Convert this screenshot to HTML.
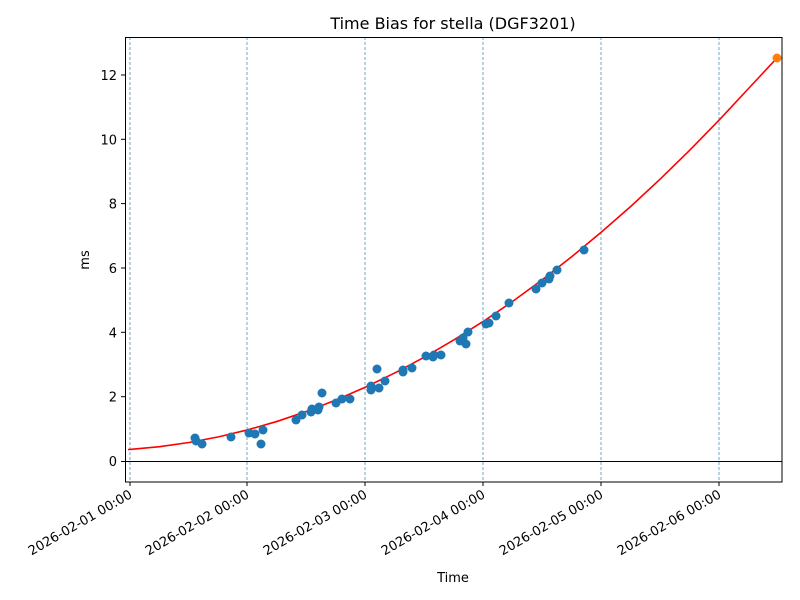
<!DOCTYPE html>
<html><head><meta charset="utf-8"><style>body{margin:0;background:#fff}svg{display:block;font-family:"DejaVu Sans","Liberation Sans",sans-serif}</style></head><body>
<svg width="800" height="600" xmlns="http://www.w3.org/2000/svg">
<rect width="800" height="600" fill="#fff"/>
<g stroke="#1f77b4" stroke-width="0.8" stroke-dasharray="3,2" opacity="0.8">
<line x1="130" y1="37" x2="130" y2="482"/><line x1="247" y1="37" x2="247" y2="482"/><line x1="365" y1="37" x2="365" y2="482"/><line x1="483" y1="37" x2="483" y2="482"/><line x1="601" y1="37" x2="601" y2="482"/><line x1="719" y1="37" x2="719" y2="482"/>
</g>
<line x1="125.5" y1="461.5" x2="782" y2="461.5" stroke="#000" stroke-width="1"/>
<polyline fill="none" stroke="red" stroke-width="1.6" points="128,449.5 130,449.4 159.5,446.7 189,442.5 218.4,436.9 247.9,429.8 277.4,421.3 306.9,411.3 336.3,399.9 365.8,387 395.3,372.7 424.8,356.9 454.2,339.7 483.7,321.1 513.2,301 542.7,279.4 572.1,256.4 601.6,231.9 631.1,206.1 660.6,178.7 690,149.9 719.5,119.7 749,88 777,58"/>
<g fill="#1f77b4">
<circle cx="195" cy="438" r="4.5"/><circle cx="196" cy="441" r="4.5"/><circle cx="202" cy="444" r="4.5"/><circle cx="231" cy="437" r="4.5"/><circle cx="249" cy="433" r="4.5"/><circle cx="255" cy="434" r="4.5"/><circle cx="261" cy="444" r="4.5"/><circle cx="263" cy="430" r="4.5"/><circle cx="296" cy="420" r="4.5"/><circle cx="302" cy="415" r="4.5"/><circle cx="311" cy="412" r="4.5"/><circle cx="312" cy="409" r="4.5"/><circle cx="318" cy="410" r="4.5"/><circle cx="319" cy="407" r="4.5"/><circle cx="322" cy="393" r="4.5"/><circle cx="336" cy="403" r="4.5"/><circle cx="342" cy="399" r="4.5"/><circle cx="350" cy="399" r="4.5"/><circle cx="371" cy="386" r="4.5"/><circle cx="371" cy="390" r="4.5"/><circle cx="377" cy="369" r="4.5"/><circle cx="379" cy="388" r="4.5"/><circle cx="385" cy="381" r="4.5"/><circle cx="403" cy="372" r="4.5"/><circle cx="403" cy="370" r="4.5"/><circle cx="412" cy="368" r="4.5"/><circle cx="426" cy="356" r="4.5"/><circle cx="433" cy="357" r="4.5"/><circle cx="434" cy="355" r="4.5"/><circle cx="441" cy="355" r="4.5"/><circle cx="460" cy="341" r="4.5"/><circle cx="463" cy="338" r="4.5"/><circle cx="466" cy="344" r="4.5"/><circle cx="468" cy="332" r="4.5"/><circle cx="486" cy="324" r="4.5"/><circle cx="489" cy="323" r="4.5"/><circle cx="496" cy="316" r="4.5"/><circle cx="509" cy="303" r="4.5"/><circle cx="536" cy="289" r="4.5"/><circle cx="542" cy="283" r="4.5"/><circle cx="549" cy="279" r="4.5"/><circle cx="550" cy="276" r="4.5"/><circle cx="557" cy="270" r="4.5"/><circle cx="584" cy="250" r="4.5"/>
</g>
<circle cx="777" cy="58" r="4.5" fill="#ff7f0e"/>
<rect x="125.5" y="37.5" width="656.5" height="444.5" fill="none" stroke="#000" stroke-width="1"/>
<g stroke="#000" stroke-width="1">
<line x1="130" y1="482" x2="130" y2="486"/><line x1="247" y1="482" x2="247" y2="486"/><line x1="365" y1="482" x2="365" y2="486"/><line x1="483" y1="482" x2="483" y2="486"/><line x1="601" y1="482" x2="601" y2="486"/><line x1="719" y1="482" x2="719" y2="486"/>
<line x1="121" y1="461.5" x2="125" y2="461.5"/><line x1="121" y1="396.7" x2="125" y2="396.7"/><line x1="121" y1="332.3" x2="125" y2="332.3"/><line x1="121" y1="268" x2="125" y2="268"/><line x1="121" y1="203.6" x2="125" y2="203.6"/><line x1="121" y1="139.3" x2="125" y2="139.3"/><line x1="121" y1="75" x2="125" y2="75"/>
</g>
<g font-size="13" text-anchor="end">
<text x="117" y="466">0</text><text x="117" y="401.7">2</text><text x="117" y="337.3">4</text><text x="117" y="273">6</text><text x="117" y="208.6">8</text><text x="117" y="144.3">10</text><text x="117" y="80">12</text>
<text transform="translate(133,497) rotate(-30)">2026-02-01 00:00</text>
<text transform="translate(250,497) rotate(-30)">2026-02-02 00:00</text>
<text transform="translate(368,497) rotate(-30)">2026-02-03 00:00</text>
<text transform="translate(486,497) rotate(-30)">2026-02-04 00:00</text>
<text transform="translate(604,497) rotate(-30)">2026-02-05 00:00</text>
<text transform="translate(722,497) rotate(-30)">2026-02-06 00:00</text>
</g>
<text x="453" y="582" font-size="13" text-anchor="middle">Time</text>
<text transform="translate(89,260) rotate(-90)" font-size="13" text-anchor="middle">ms</text>
<text x="453" y="29" font-size="16" text-anchor="middle">Time Bias for stella (DGF3201)</text>
</svg>
</body></html>
